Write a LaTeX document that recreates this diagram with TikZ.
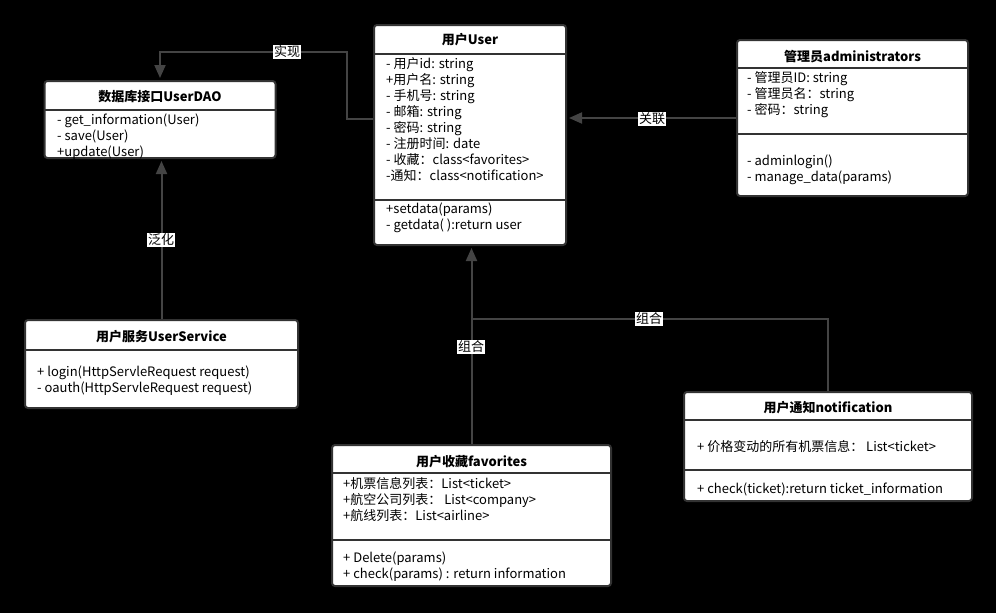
\documentclass[tikz,border=0pt]{standalone}
\usepackage{fontspec}
\setmainfont{Noto Sans CJK SC}
\usetikzlibrary{arrows.meta,calc}
\definecolor{Frame}{HTML}{333333}
\definecolor{Wire}{HTML}{444444}
\tikzset{
  classbox/.style={draw=Frame,line width=2pt,fill=white,rounded corners=3pt,inner sep=0pt},
  classtitle/.style={inner sep=0pt,font=\bfseries\fontsize{13}{16}\selectfont},
  members/.style={anchor=west,align=left,inner sep=0pt,font=\fontsize{13}{16}\selectfont},
  divider/.style={draw=Frame,line width=1.6pt},
  wire/.style={draw=Wire,line width=2pt},
  relation/.style={wire,-{Triangle[length=13pt,width=11pt]},shorten >=2pt},
  rellabel/.style={fill=white,inner sep=1pt,font=\fontsize{13}{14}\selectfont}
}

\begin{document}
\begin{tikzpicture}[x=1pt,y=-1pt]
  \fill[black] (0,0) rectangle (996,613);
  \useasboundingbox (0,0) rectangle (996,613);

  \node[classbox,minimum width=192pt,minimum height=220pt] (user) at (470,135) {};
  \node[classbox,minimum width=231pt,minimum height=77pt] (dao) at (160,119.5) {};
  \node[classbox,minimum width=231pt,minimum height=156pt] (admin) at (852.5,118) {};
  \node[classbox,minimum width=273pt,minimum height=88pt] (service) at (161.5,364) {};
  \node[classbox,minimum width=279pt,minimum height=141pt] (fav) at (471.5,515.5) {};
  \node[classbox,minimum width=288pt,minimum height=109pt] (notif) at (828,446.5) {};

  \draw[divider] ($(user.north west)+(0,30)$) -- ($(user.north east)+(0,30)$);
  \draw[divider] ($(user.north west)+(0,176)$) -- ($(user.north east)+(0,176)$);
  \draw[divider] ($(dao.north west)+(0,30)$) -- ($(dao.north east)+(0,30)$);
  \draw[divider] ($(admin.north west)+(0,29)$) -- ($(admin.north east)+(0,29)$);
  \draw[divider] ($(admin.north west)+(0,95)$) -- ($(admin.north east)+(0,95)$);
  \draw[divider] ($(service.north west)+(0,31)$) -- ($(service.north east)+(0,31)$);
  \draw[divider] ($(fav.north west)+(0,29)$) -- ($(fav.north east)+(0,29)$);
  \draw[divider] ($(fav.north west)+(0,96)$) -- ($(fav.north east)+(0,96)$);
  \draw[divider] ($(notif.north west)+(0,29)$) -- ($(notif.north east)+(0,29)$);
  \draw[divider] ($(notif.north west)+(0,79)$) -- ($(notif.north east)+(0,79)$);

  \node[classtitle] (userTitle) at (470,40) {用户User};
  \node[members] (userAttr) at (386,120) {- 用户id: string\\+用户名: string\\- 手机号: string\\- 邮箱: string\\- 密码: string\\- 注册时间: date\\- 收藏：class<favorites>\\-通知：class<notification>};
  \node[members] (userOps) at (386,218) {+setdata(params)\\- getdata( ):return user};

  \node[classtitle] (daoTitle) at (160,97) {数据库接口UserDAO};
  \node[members] (daoOps) at (57,136.5) {- get\_information(User)\\- save(User)\\+update(User)};

  \node[classtitle] (adminTitle) at (852.5,57) {管理员administrators};
  \node[members] (adminAttr) at (747,95) {- 管理员ID: string\\- 管理员名：string\\- 密码：string};
  \node[members] (adminOps) at (747,170) {- adminlogin()\\- manage\_data(params)};

  \node[classtitle] (serviceTitle) at (161.5,337) {用户服务UserService};
  \node[members] (serviceOps) at (37,381) {+ login(HttpServleRequest request)\\- oauth(HttpServleRequest request)};

  \node[classtitle] (favTitle) at (471.5,462) {用户收藏favorites};
  \node[members] (favAttr) at (343,500) {+机票信息列表：List<ticket>\\+航空公司列表：\ List<company>\\+航线列表：List<airline>};
  \node[members] (favOps) at (343,567) {+ Delete(params)\\+ check(params) : return information};

  \node[classtitle] (notifTitle) at (828,408) {用户通知notification};
  \node[members] (notifAttr) at (697,447) {+ 价格变动的所有机票信息：\ List<ticket>};
  \node[members] (notifOps) at (697,489) {+ check(ticket):return ticket\_information};

  \coordinate (bend) at (347,52);
  \coordinate (joint) at (471.5,319);
  \draw[relation] ([yshift=16pt]user.west) -| (bend) -| (dao.north);
  \draw[relation] (service.north) -- (service.north |- dao.south);
  \draw[relation] (admin.west) -- (admin.west -| user.east);
  \draw[relation] (fav.north) -- (fav.north |- user.south);
  \draw[wire] (notif.north) |- (joint);

  \node[rellabel] (implLabel) at (287,52) {实现};
  \node[rellabel] (genLabel) at (161,240) {泛化};
  \node[rellabel] (assocLabel) at (652,119) {关联};
  \node[rellabel] (compLabelA) at (649,319) {组合};
  \node[rellabel] (compLabelB) at (471,347) {组合};
\end{tikzpicture}
\end{document}
